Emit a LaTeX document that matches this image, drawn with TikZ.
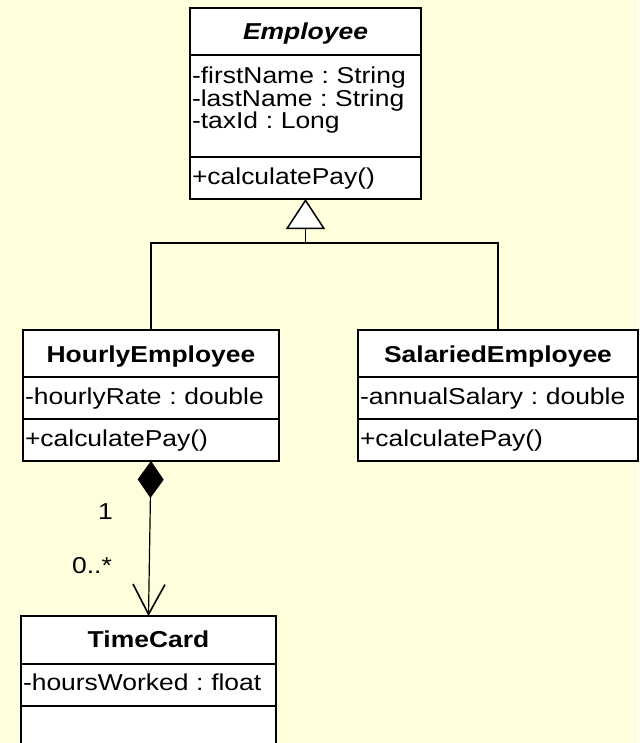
\documentclass[tikz,border=0pt]{standalone}
\usepackage{fontspec}
\setmainfont{Liberation Sans}[FakeStretch=1.15]
\usetikzlibrary{arrows.meta, positioning}
\definecolor{umlbg}{RGB}{255,255,221}
\frenchspacing

\begin{document}
\begin{tikzpicture}[x=1pt, y=-1pt, font=\fontsize{23}{21}\selectfont,
  classname/.style={draw, fill=white, line width=1.8pt, outer sep=0pt, inner ysep=0pt,
    text height=32pt, text depth=15pt, anchor=north, font=\fontsize{23}{21}\selectfont\bfseries},
  compart/.style={draw, fill=white, line width=1.8pt, outer sep=0pt, inner ysep=0pt,
    inner xsep=2pt, align=left, text height=27pt, text depth=15pt},
  mult/.style={inner sep=0pt, anchor=base east},
  gen/.style={-{Triangle[open, length=30pt, width=39pt, fill=white, line width=1.5pt]}, line width=1.2pt},
  comp/.style={{Diamond[length=37pt, width=26pt]}-{Straight Barb[length=30pt, width=32pt, line width=1.6pt]}, line width=1.2pt}]
\useasboundingbox (0,0) rectangle (639,743);
\clip (0,0) rectangle (639,743);
\fill [umlbg] (0,0) rectangle (639,743);

% abstract base class
\node [classname, minimum width=231pt] (emp) at (305.5,8) {\itshape Employee};
\node [compart, text width=227pt, text height=29pt, text depth=73pt, below=0pt of emp] (empattr)
  {-firstName : String\\-lastName : String\\-taxId : Long};
\node [compart, text width=227pt, text height=28pt, text depth=14pt, below=0pt of empattr] (empops) {+calculatePay()};

% subclasses
\node [classname, minimum width=256pt] (hourly) at (151,330) {HourlyEmployee};
\node [compart, text width=252pt, below=0pt of hourly] (hourlyattr) {-hourlyRate : double};
\node [compart, text width=252pt, below=0pt of hourlyattr] (hourlyops) {+calculatePay()};

\node [classname, minimum width=280pt] (salaried) at (498,330) {SalariedEmployee};
\node [compart, text width=276pt, below=0pt of salaried] (salariedattr) {-annualSalary : double};
\node [compart, text width=276pt, below=0pt of salariedattr] (salariedops) {+calculatePay()};

% part class
\node [classname, minimum width=255pt, text height=31pt, text depth=17pt] (timecard) at (148.5,616) {TimeCard};
\node [compart, text width=251pt, text height=26pt, text depth=16pt, below=0pt of timecard] (timecardattr) {-hoursWorked : float};
\node [compart, text width=251pt, text depth=30pt, below=0pt of timecardattr] (timecardops) {};

% generalisation
\coordinate (fork) at (305.5,243);
\draw [line width=1.2pt] (hourly.north) |- (fork) -| (salaried.north);
\draw [gen] (fork) -- (empops.south);

% composition
\draw [comp] (hourlyops.south) -- (timecard.north);
\node [mult] (one) at (113,519) {1};
\node [mult] (many) at (112,573) {0..*};
\end{tikzpicture}
\end{document}
